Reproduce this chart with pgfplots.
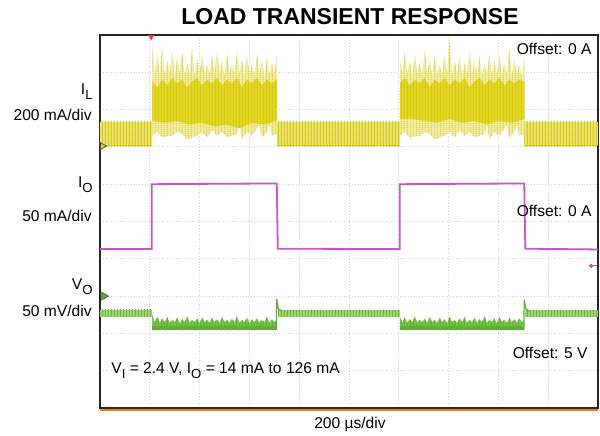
\documentclass[border=0pt]{standalone}
\usepackage{fontspec}
\setmainfont{Liberation Sans}
\usepackage{pgfplots}
\pgfplotsset{compat=1.18}
\usetikzlibrary{patterns}

\definecolor{ylcore}{RGB}{226,214,40}
\definecolor{ylpale}{RGB}{242,237,170}
\definecolor{ylband}{RGB}{236,228,120}
\definecolor{ylline}{RGB}{212,196,0}
\definecolor{mag}{RGB}{200,85,200}
\definecolor{grnband}{RGB}{165,215,120}
\definecolor{grnline}{RGB}{95,175,55}
\definecolor{grncore}{RGB}{120,195,70}

\pgfdeclarepatternformonly{densevlines}{\pgfpointorigin}{\pgfqpoint{1.4pt}{1pt}}{\pgfqpoint{1.4pt}{1pt}}{%
  \pgfsetlinewidth{0.55pt}%
  \pgfpathmoveto{\pgfqpoint{0.7pt}{-0.1pt}}%
  \pgfpathlineto{\pgfqpoint{0.7pt}{1.1pt}}%
  \pgfusepath{stroke}}

\newcommand\sub[1]{\raisebox{-0.6ex}{\fontsize{6.6}{7}\selectfont #1}}

\begin{document}
\begin{tikzpicture}
\begin{axis}[
  width=249pt, height=186.5pt, scale only axis,
  xmin=0, xmax=10, ymin=0, ymax=10,
  xtick={0,...,10}, ytick={0,...,10},
  xticklabels={}, yticklabels={},
  major tick length=0pt,
  grid=major,
  major grid style={gray!35, densely dotted, line width=0.4pt},
  axis line style={black!85, line width=0.9pt},
  clip=false,
  font=\fontsize{7.8}{9}\selectfont,
  /pgf/number format/assume math mode=true,
]
\coordinate (bl) at (rel axis cs:0,0);
\coordinate (tr) at (rel axis cs:1,1);

% ---- I_L, light load bands
\pgfplotsset{lightIL/.style={draw=none, fill=ylband,
  postaction={pattern=densevlines, pattern color=ylline}}}
\addplot[lightIL] coordinates {(0,7.02)(1.05,7.02)(1.05,7.67)(0,7.67)} -- cycle;
\addplot[lightIL] coordinates {(3.55,7.02)(6.02,7.02)(6.02,7.67)(3.55,7.67)} -- cycle;
\addplot[lightIL] coordinates {(8.52,7.02)(10,7.02)(10,7.67)(8.52,7.67)} -- cycle;
\addplot[ylline, line width=0.6pt] coordinates {(0,7.03)(1.05,7.03)};
\addplot[ylline, line width=0.6pt] coordinates {(3.55,7.03)(6.02,7.03)};
\addplot[ylline, line width=0.6pt] coordinates {(8.52,7.03)(10,7.03)};

% ---- I_L, heavy load (spike envelope)
\pgfplotsset{heavyIL/.style={draw=none, fill=ylpale,
  postaction={pattern=densevlines, pattern color=ylline!75}}}
\addplot[heavyIL] coordinates {
(1.05,7.3)(1.05,9.75)(1.10,8.9)(1.15,9.5)(1.20,8.95)(1.25,9.7)(1.30,8.9)(1.35,9.3)
(1.40,8.95)(1.45,9.6)(1.50,8.9)(1.55,9.4)(1.60,8.95)(1.65,9.55)(1.70,8.9)(1.75,9.25)
(1.80,8.95)(1.85,9.65)(1.90,8.9)(1.95,9.35)(2.00,8.95)(2.05,9.5)(2.10,8.9)(2.15,9.2)
(2.20,8.95)(2.25,9.45)(2.30,8.9)(2.35,9.6)(2.40,8.95)(2.45,9.3)(2.50,8.9)(2.55,9.5)
(2.60,8.95)(2.65,9.25)(2.70,8.9)(2.75,9.55)(2.80,8.95)(2.85,9.35)(2.90,8.9)(2.95,9.45)
(3.00,8.95)(3.05,9.2)(3.10,8.9)(3.15,9.5)(3.20,8.95)(3.25,9.3)(3.30,8.9)(3.35,9.4)
(3.40,8.95)(3.45,9.25)(3.50,8.9)(3.55,9.45)
(3.55,7.35)(3.45,7.3)(3.40,7.6)(3.35,7.4)(3.25,7.25)(3.20,7.6)(3.05,7.3)(2.95,7.4)
(2.85,7.2)(2.80,7.6)(2.75,7.35)(2.55,7.25)(2.45,7.4)(2.35,7.3)(2.25,7.45)(2.15,7.25)
(2.05,7.4)(1.95,7.3)(1.75,7.2)(1.65,7.35)(1.55,7.4)(1.45,7.3)(1.25,7.25)(1.15,7.4)
} -- cycle;
\addplot[heavyIL] coordinates {
(6.02,7.3)(6.02,9.4)(6.07,8.9)(6.12,9.55)(6.17,8.95)(6.22,9.3)(6.27,8.9)(6.32,9.5)
(6.37,8.95)(6.42,9.25)(6.47,8.9)(6.52,9.6)(6.57,8.95)(6.62,9.35)(6.67,8.9)(6.72,9.45)
(6.77,8.95)(6.82,9.2)(6.87,8.9)(6.92,9.5)(6.97,8.95)(7.02,9.85)(7.07,8.9)(7.12,9.3)
(7.17,8.95)(7.22,9.45)(7.27,8.9)(7.32,9.25)(7.37,8.95)(7.42,9.55)(7.47,8.9)(7.52,9.3)
(7.57,8.95)(7.62,9.4)(7.67,8.9)(7.72,9.2)(7.77,8.95)(7.82,9.5)(7.87,8.9)(7.92,9.3)
(7.97,8.95)(8.02,9.45)(8.07,8.9)(8.12,9.25)(8.17,8.95)(8.22,9.6)(8.27,8.9)(8.32,9.35)
(8.37,8.95)(8.42,9.2)(8.47,8.9)(8.52,9.4)
(8.52,7.35)(8.42,7.3)(8.37,7.6)(8.32,7.4)(8.22,7.25)(8.17,7.6)(8.02,7.3)(7.92,7.4)
(7.82,7.2)(7.77,7.6)(7.72,7.35)(7.52,7.25)(7.42,7.4)(7.32,7.3)(7.22,7.45)(7.12,7.25)
(7.02,7.4)(6.92,7.3)(6.72,7.2)(6.62,7.35)(6.52,7.4)(6.42,7.3)(6.22,7.25)(6.12,7.4)
} -- cycle;

% ---- I_L, heavy load (dense core)
\pgfplotsset{coreIL/.style={fill=ylcore, draw=none,
  postaction={pattern=densevlines, pattern color=ylline}}}
\addplot[coreIL] coordinates {
(1.05,7.7)(1.05,8.75)(1.15,8.6)(1.25,8.8)(1.35,8.65)(1.45,8.85)(1.55,8.7)(1.65,8.8)
(1.75,8.6)(1.85,8.75)(1.95,8.85)(2.05,8.65)(2.15,8.8)(2.25,8.7)(2.35,8.85)(2.45,8.65)
(2.55,8.8)(2.65,8.7)(2.75,8.85)(2.85,8.6)(2.95,8.8)(3.05,8.7)(3.15,8.85)(3.25,8.65)
(3.35,8.8)(3.45,8.7)(3.55,8.8)
(3.55,7.7)(3.30,7.6)(3.05,7.65)(2.80,7.5)(2.55,7.6)(2.30,7.55)(2.05,7.65)(1.80,7.6)
(1.55,7.7)(1.30,7.65)
} -- cycle;
\addplot[coreIL] coordinates {
(6.02,7.75)(6.02,8.7)(6.12,8.85)(6.22,8.65)(6.32,8.8)(6.42,8.7)(6.52,8.85)(6.62,8.6)
(6.72,8.8)(6.82,8.7)(6.92,8.85)(7.02,8.65)(7.12,8.8)(7.22,8.7)(7.32,8.85)(7.42,8.6)
(7.52,8.75)(7.62,8.85)(7.72,8.65)(7.82,8.8)(7.92,8.7)(8.02,8.85)(8.12,8.65)(8.22,8.8)
(8.32,8.7)(8.42,8.8)(8.52,8.75)
(8.52,7.75)(8.27,7.65)(8.02,7.7)(7.77,7.6)(7.52,7.7)(7.27,7.65)(7.02,7.75)(6.77,7.65)
(6.52,7.7)(6.27,7.75)
} -- cycle;

% ---- I_O
\addplot[mag, line width=0.9pt] coordinates {
(0,4.26)(1.04,4.26)(1.04,6.0)(3.55,6.02)(3.57,4.27)(6.02,4.26)(6.02,6.0)(8.52,6.02)
(8.54,4.27)(10,4.25)};
\addplot[mag, line width=0.6pt] coordinates {(9.84,3.81)(9.98,3.81)};
\addplot[mag, only marks, mark=*, mark size=0.9pt] coordinates {(9.86,3.81)};

% ---- V_O, light load
\pgfplotsset{lightVO/.style={draw=none, fill=grnband,
  postaction={pattern=densevlines, pattern color=grnline}}}
\addplot[lightVO] coordinates {(0,2.45)(1.05,2.45)(1.05,2.63)(0,2.63)} -- cycle;
\addplot[lightVO] coordinates {(3.57,2.45)(6.02,2.45)(6.02,2.62)(3.57,2.62)} -- cycle;
\addplot[lightVO] coordinates {(8.54,2.45)(10,2.45)(10,2.62)(8.54,2.62)} -- cycle;

% ---- V_O, heavy load
\pgfplotsset{heavyVO/.style={draw=none, fill=grncore,
  postaction={pattern=densevlines, pattern color=grnline}}}
\addplot[heavyVO] coordinates {
(1.05,2.09)(1.05,2.5)(1.10,2.3)(1.15,2.45)(1.20,2.28)(1.25,2.4)(1.30,2.3)(1.35,2.44)
(1.40,2.28)(1.45,2.36)(1.50,2.3)(1.55,2.42)(1.60,2.27)(1.65,2.38)(1.70,2.3)(1.75,2.46)
(1.80,2.28)(1.85,2.36)(1.90,2.3)(1.95,2.4)(2.00,2.27)(2.05,2.44)(2.10,2.3)(2.15,2.36)
(2.20,2.28)(2.25,2.42)(2.30,2.3)(2.35,2.38)(2.40,2.27)(2.45,2.44)(2.50,2.3)(2.55,2.36)
(2.60,2.28)(2.65,2.4)(2.70,2.3)(2.75,2.46)(2.80,2.28)(2.85,2.36)(2.90,2.3)(2.95,2.42)
(3.00,2.27)(3.05,2.38)(3.10,2.3)(3.15,2.4)(3.20,2.28)(3.25,2.36)(3.30,2.3)(3.35,2.44)
(3.40,2.28)(3.45,2.38)(3.50,2.3)(3.55,2.35)(3.55,2.09)} -- cycle;
\addplot[heavyVO] coordinates {
(6.02,2.09)(6.02,2.45)(6.07,2.3)(6.12,2.42)(6.17,2.28)(6.22,2.38)(6.27,2.3)(6.32,2.46)
(6.37,2.28)(6.42,2.36)(6.47,2.3)(6.52,2.4)(6.57,2.27)(6.62,2.44)(6.67,2.3)(6.72,2.36)
(6.77,2.28)(6.82,2.42)(6.87,2.3)(6.92,2.38)(6.97,2.27)(7.02,2.45)(7.07,2.3)(7.12,2.36)
(7.17,2.28)(7.22,2.4)(7.27,2.3)(7.32,2.44)(7.37,2.28)(7.42,2.36)(7.47,2.3)(7.52,2.42)
(7.57,2.27)(7.62,2.38)(7.67,2.3)(7.72,2.46)(7.77,2.28)(7.82,2.36)(7.87,2.3)(7.92,2.4)
(7.97,2.27)(8.02,2.44)(8.07,2.3)(8.12,2.36)(8.17,2.28)(8.22,2.42)(8.27,2.3)(8.32,2.38)
(8.37,2.28)(8.42,2.4)(8.47,2.3)(8.52,2.35)(8.52,2.09)} -- cycle;
\addplot[fill=grnline, draw=none] coordinates {
(1.05,2.09)(3.55,2.09)(3.55,2.2)(1.05,2.2)} -- cycle;
\addplot[fill=grnline, draw=none] coordinates {
(6.02,2.09)(8.52,2.09)(8.52,2.2)(6.02,2.2)} -- cycle;
% recovery spikes
\addplot[grnline, line width=0.6pt] coordinates {(3.54,2.2)(3.55,2.92)(3.58,2.66)(3.65,2.6)};
\addplot[grnline, line width=0.6pt] coordinates {(8.51,2.2)(8.52,2.9)(8.55,2.66)(8.62,2.6)};

% ---- channel markers
\addplot[only marks, mark=triangle*, mark size=2pt,
  mark options={rotate=-90, fill=ylcore, draw=black!70}] coordinates {(0.05,7.02)};
\addplot[only marks, mark=triangle*, mark size=2.2pt,
  mark options={rotate=-90, fill=grnline, draw=grnline!60!black}] coordinates {(0.08,3.0)};
\addplot[only marks, mark=triangle*, mark size=1.3pt,
  mark options={rotate=180, fill=red!80, draw=red!80}] coordinates {(1.03,9.95)};

% ---- bottom border tint
\draw[orange!80!brown, line width=0.6pt] ([yshift=-1pt]bl) -- ([yshift=-1pt]bl -| tr);

% ---- texts
\tikzset{lbl/.style={inner sep=0pt}}
\node[lbl, font=\fontsize{11.5}{13}\selectfont\bfseries] at (axis cs:5.02,10.48) {LOAD TRANSIENT RESPONSE};
\node[lbl, anchor=east] at (axis cs:-0.14,8.47) {I\sub{L}};
\node[lbl, anchor=east] at (axis cs:-0.16,7.86) {200 mA/div};
\node[lbl, anchor=east] at (axis cs:-0.14,5.98) {I\sub{O}};
\node[lbl, anchor=east] at (axis cs:-0.16,5.15) {50 mA/div};
\node[lbl, anchor=east] at (axis cs:-0.14,3.24) {V\sub{O}};
\node[lbl, anchor=east] at (axis cs:-0.16,2.6) {50 mV/div};
\node[lbl, anchor=east] at (axis cs:9.88,9.62) {Offset: 0 A};
\node[lbl, anchor=east] at (axis cs:9.88,5.28) {Offset: 0 A};
\node[lbl, anchor=east] at (axis cs:9.8,1.47) {Offset: 5 V};
\node[lbl, anchor=west] at (axis cs:0.22,1.0) {V\sub{I} = 2.4 V, I\sub{O} = 14 mA to 126 mA};
\node[lbl] at (axis cs:5.02,-0.43) {200 µs/div};
\end{axis}
\pgfresetboundingbox
\path ([shift={(-50pt,-14pt)}]bl) rectangle ([shift={(1pt,17.5pt)}]tr);
\end{tikzpicture}
\end{document}
